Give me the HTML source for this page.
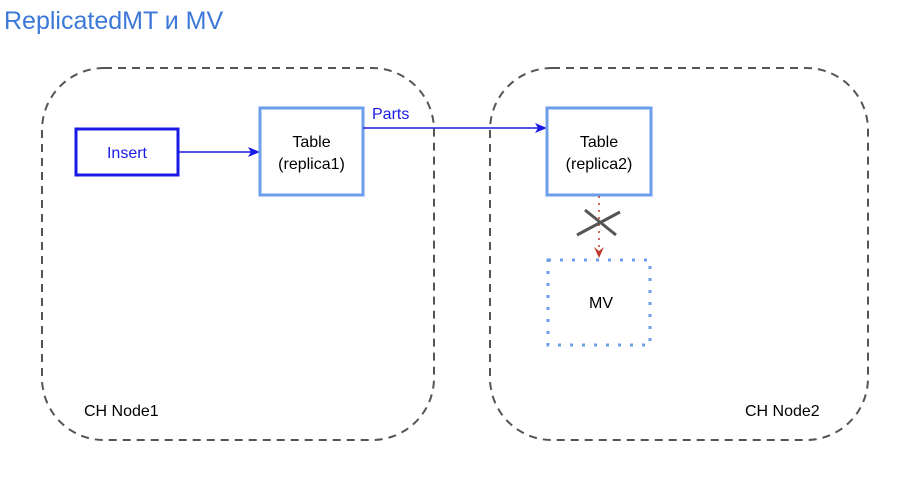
<!DOCTYPE html>
<html><head><meta charset="utf-8"><style>
html,body{margin:0;padding:0;background:#fff;}
body{width:912px;height:480px;overflow:hidden;position:relative;font-family:"Liberation Sans",Arial,sans-serif;}
</style></head><body>
<svg width="912" height="480" viewBox="0 0 912 480" xmlns="http://www.w3.org/2000/svg" style="position:absolute;left:0;top:0">
<text x="4" y="29" font-family="Liberation Sans, Arial, sans-serif" font-size="25" fill="#3c78d8">ReplicatedMT и MV</text>
<rect x="42" y="68" width="392" height="372" rx="62" ry="62" fill="none" stroke="#555" stroke-width="2" stroke-dasharray="8,6"/>
<rect x="490" y="68" width="378" height="372" rx="62" ry="62" fill="none" stroke="#555" stroke-width="2" stroke-dasharray="8,6"/>
<text x="84" y="416" font-size="16" fill="#000">CH Node1</text>
<text x="745" y="416" font-size="16" fill="#000">CH Node2</text>
<rect x="76" y="129" width="102" height="46" fill="#fff" stroke="#1a1ae6" stroke-width="3"/>
<text x="127" y="158" font-size="16" fill="#1a1ae6" text-anchor="middle">Insert</text>
<line x1="178" y1="152" x2="255" y2="152" stroke="#1a1ae6" stroke-width="1.5"/>
<polygon points="260,152 248,147 251,152 248,157" fill="#1a1ae6"/>
<rect x="260" y="108" width="103" height="87" fill="#fff" stroke="#6d9eeb" stroke-width="3"/>
<text x="311.5" y="147" font-size="16" fill="#000" text-anchor="middle">Table</text>
<text x="311.5" y="169" font-size="16" fill="#000" text-anchor="middle">(replica1)</text>
<line x1="363" y1="128" x2="542" y2="128" stroke="#1a1ae6" stroke-width="1.5"/>
<polygon points="547,128 535,123 538,128 535,133" fill="#1a1ae6"/>
<text x="372" y="119" font-size="16" fill="#1a1ae6">Parts</text>
<rect x="547" y="108" width="104" height="87" fill="#fff" stroke="#6d9eeb" stroke-width="3"/>
<text x="599" y="147" font-size="16" fill="#000" text-anchor="middle">Table</text>
<text x="599" y="169" font-size="16" fill="#000" text-anchor="middle">(replica2)</text>
<line x1="599" y1="196" x2="599" y2="252" stroke="#c0392b" stroke-width="1.5" stroke-dasharray="2,5"/>
<polygon points="599,258 594,247 599,251 604,247" fill="#c0392b"/>
<line x1="577" y1="235" x2="620" y2="212" stroke="#555" stroke-width="3"/>
<line x1="585" y1="210" x2="616" y2="235" stroke="#555" stroke-width="3"/>
<rect x="548" y="260" width="102" height="85" fill="none" stroke="#6d9eeb" stroke-width="3" stroke-dasharray="3,9"/>
<text x="601" y="308" font-size="16" fill="#000" text-anchor="middle">MV</text>
</svg>
</body></html>
